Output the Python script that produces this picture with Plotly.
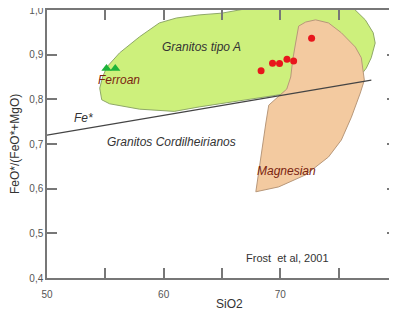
import plotly.graph_objects as go

# --- data ---
tipoA_x = [54.52, 54.77, 55.12, 56.22, 57.93, 59.63, 61.08, 63.04, 65.00, 67.31, 76.26, 77.28, 77.96, 78.13, 77.79, 77.37, 77.11, 74.13, 70.72, 69.61, 63.04, 60.91, 57.93, 55.37, 54.69, 54.52]
tipoA_y = [0.825, 0.850, 0.872, 0.904, 0.940, 0.971, 0.982, 0.989, 0.993, 1.004, 1.004, 0.978, 0.949, 0.926, 0.893, 0.870, 0.861, 0.830, 0.814, 0.809, 0.783, 0.773, 0.778, 0.790, 0.799, 0.825]

magn_x = [71.57, 72.17, 73.02, 74.13, 75.23, 76.43, 76.94, 77.11, 77.20, 76.85, 76.09, 75.23, 74.13, 72.17, 69.86, 67.90, 68.16, 68.41, 68.76, 69.01, 70.55, 70.89, 71.06, 71.31, 71.57]
magn_y = [0.964, 0.973, 0.978, 0.971, 0.949, 0.917, 0.893, 0.861, 0.843, 0.814, 0.760, 0.709, 0.671, 0.631, 0.604, 0.593, 0.642, 0.687, 0.747, 0.787, 0.823, 0.850, 0.888, 0.926, 0.964]

fe_line_x = [50, 77.8]
fe_line_y = [0.720, 0.843]

red_x = [68.35, 69.33, 69.93, 70.57, 71.14, 72.68]
red_y = [0.864, 0.881, 0.880, 0.890, 0.886, 0.937]

green_x = [55.1, 55.85]
green_y = [0.869, 0.869]

x_tickvals = [50, 55, 60, 65, 70, 75, 80]
x_ticktext = ["50", "", "60", "", "70", "", "80"]
y_tickvals = [0.4, 0.5, 0.6, 0.7, 0.8, 0.9, 1.0]
y_ticktext = ["0,4", "0,5", "0,6", "0,7", "0,8", "0,9", "1,0"]

labels = [
    ("Granitos tipo A", 63.2, 0.917, "#333333", True, 12),
    ("Ferroan", 56.2, 0.843, "#7a2410", True, 12),
    ("Fe*", 53.1, 0.758, "#333333", True, 12),
    ("Granitos Cordilheirianos", 60.7, 0.705, "#333333", True, 12),
    ("Magnesian", 70.55, 0.640, "#7a2410", True, 12),
    ("Frost  et al, 2001", 70.6, 0.445, "#333333", False, 11),
]

FONT = "Liberation Sans, Arial, sans-serif"

fig = go.Figure()
fig.add_trace(go.Scatter(x=tipoA_x, y=tipoA_y, mode="lines", fill="toself",
                         fillcolor="#cdf07c", line=dict(color="#8fa868", width=1),
                         hoverinfo="skip", showlegend=False))
fig.add_trace(go.Scatter(x=magn_x, y=magn_y, mode="lines", fill="toself",
                         fillcolor="#f3caa0", line=dict(color="#b8987a", width=1),
                         hoverinfo="skip", showlegend=False))
fig.add_trace(go.Scatter(x=fe_line_x, y=fe_line_y, mode="lines",
                         line=dict(color="#444444", width=1.2), showlegend=False))
fig.add_trace(go.Scatter(x=red_x, y=red_y, mode="markers",
                         marker=dict(color="#e8161c", size=7, symbol="circle"),
                         showlegend=False))
fig.add_trace(go.Scatter(x=green_x, y=green_y, mode="markers",
                         marker=dict(color="#1db33a", size=9, symbol="triangle-up"),
                         showlegend=False))

for txt, x, y, col, it, sz in labels:
    t = f"<i>{txt}</i>" if it else txt
    fig.add_annotation(x=x, y=y, text=t, showarrow=False,
                       font=dict(family=FONT, size=sz, color=col))

axis_common = dict(showgrid=False, zeroline=False, showline=True, linecolor="#777777",
                   linewidth=1.5, mirror="ticks", ticks="inside", ticklen=10,
                   tickcolor="#777777", tickwidth=1.5, automargin=False,
                   ticklabeloverflow="allow",
                   tickfont=dict(family=FONT, size=10, color="#555555"))

fig.update_xaxes(range=[50, 80], tickvals=x_tickvals, ticktext=x_ticktext,
                 ticklabelstandoff=6, **axis_common)
fig.update_yaxes(range=[0.4, 1.0], tickvals=y_tickvals, ticktext=y_ticktext,
                 **axis_common)

fig.add_annotation(xref="paper", yref="paper", x=0.52, y=0, yshift=-26, yanchor="middle",
                   text="SiO2", showarrow=False,
                   font=dict(family=FONT, size=12, color="#333333"))
fig.add_annotation(xref="paper", yref="paper", x=0, y=0.5, xshift=-32, xanchor="center",
                   text="FeO*/(FeO*+MgO)", textangle=-90, showarrow=False,
                   font=dict(family=FONT, size=12, color="#333333"))

fig.update_layout(width=389, height=302, margin=dict(l=39, r=0, t=2, b=32),
                  plot_bgcolor="white", paper_bgcolor="white")

fig.write_html("out.html")
